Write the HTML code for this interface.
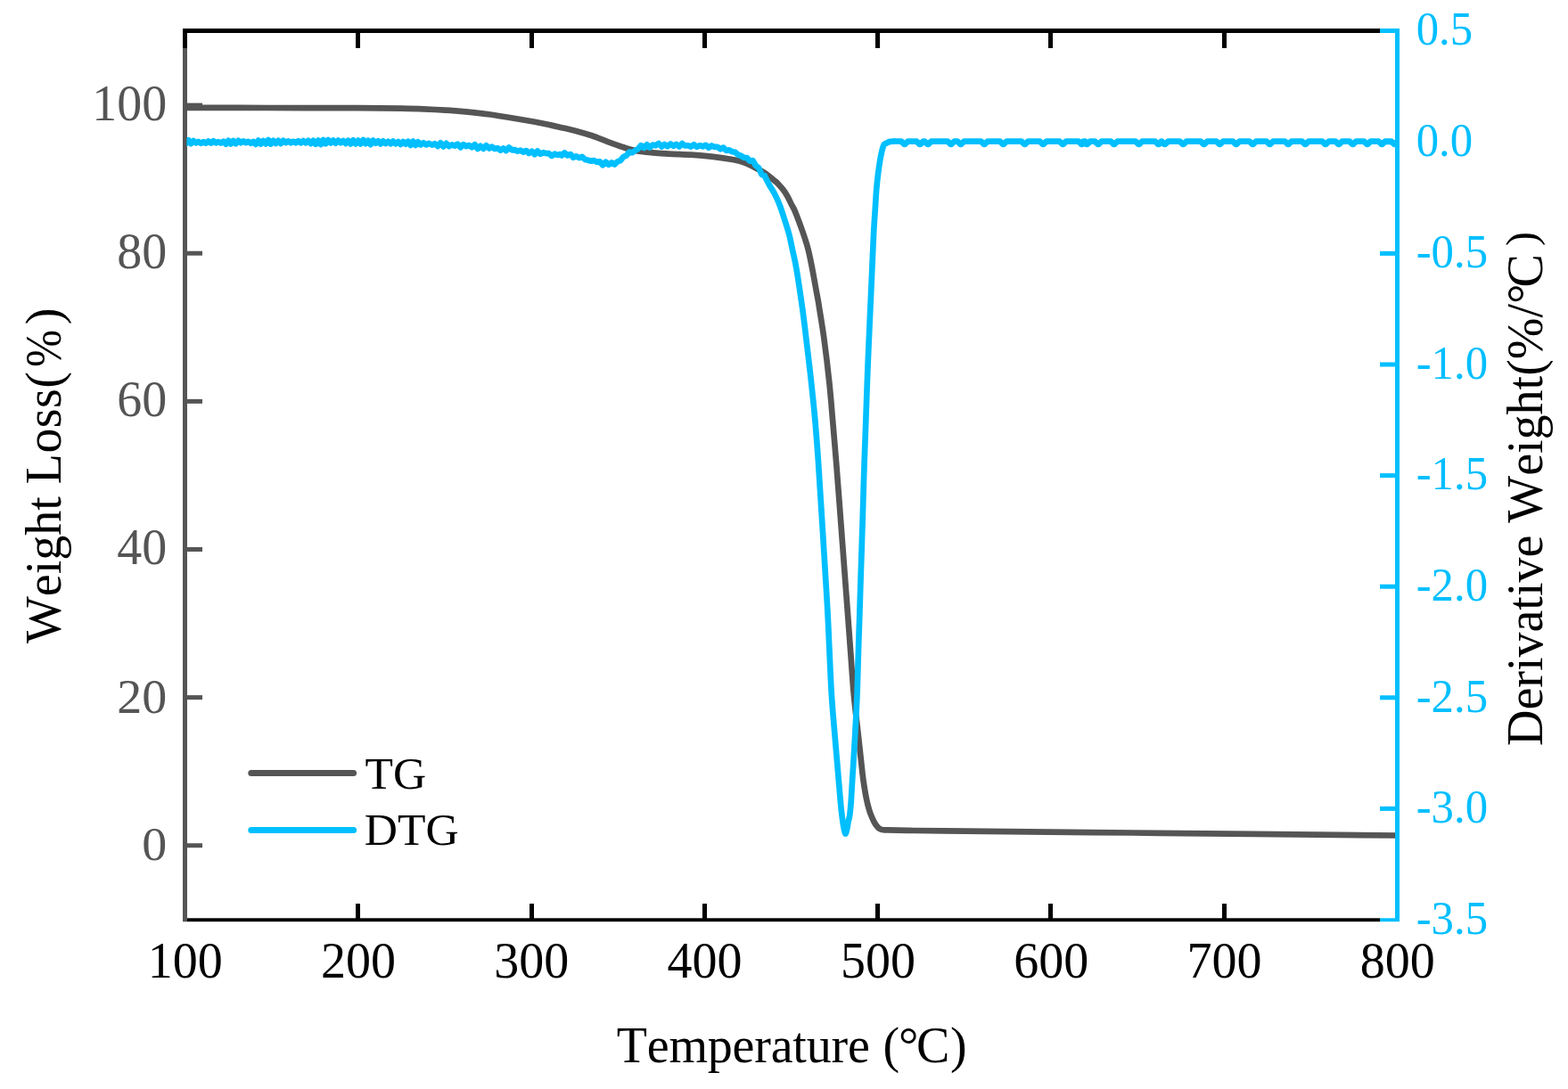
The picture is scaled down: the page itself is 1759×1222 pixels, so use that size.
<!DOCTYPE html>
<html lang="en"><head><meta charset="utf-8"><title>TG / DTG</title>
<style>html,body{margin:0;padding:0;background:#fff}body{width:1759px;height:1222px;overflow:hidden}svg{display:block}text{font-family:'Liberation Serif', 'Times New Roman', Times, serif;font-kerning:none;font-variant-ligatures:none}</style>
</head><body>
<svg width="1759" height="1222" viewBox="0 0 1759 1222">
<rect width="1759" height="1222" fill="#fff"/>
<g shape-rendering="crispEdges">
<rect x="205" y="1030.3" width="1343" height="3.9" fill="#000000" shape-rendering="geometricPrecision"/>
<rect x="399.3" y="1014" width="5" height="18" fill="#000000"/>
<rect x="593.5" y="1014" width="5" height="18" fill="#000000"/>
<rect x="787.8" y="1014" width="5" height="18" fill="#000000"/>
<rect x="982.1" y="1014" width="5" height="18" fill="#000000"/>
<rect x="1176.4" y="1014" width="5" height="18" fill="#000000"/>
<rect x="1370.6" y="1014" width="5" height="18" fill="#000000"/>
<rect x="205" y="32" width="5" height="1002.2" fill="#555555"/>
<rect x="209" y="946.25" width="18" height="5" fill="#555555" shape-rendering="geometricPrecision"/>
<rect x="209" y="780.12" width="18" height="5" fill="#555555" shape-rendering="geometricPrecision"/>
<rect x="209" y="613.99" width="18" height="5" fill="#555555" shape-rendering="geometricPrecision"/>
<rect x="209" y="447.86" width="18" height="5" fill="#555555" shape-rendering="geometricPrecision"/>
<rect x="209" y="281.73" width="18" height="5" fill="#555555" shape-rendering="geometricPrecision"/>
<rect x="209" y="115.60" width="18" height="5" fill="#555555" shape-rendering="geometricPrecision"/>
<rect x="205" y="32" width="1343" height="5" fill="#000000"/>
<rect x="205.0" y="32" width="5" height="22" fill="#000000"/>
<rect x="399.3" y="32" width="5" height="22" fill="#000000"/>
<rect x="593.5" y="32" width="5" height="22" fill="#000000"/>
<rect x="787.8" y="32" width="5" height="22" fill="#000000"/>
<rect x="982.1" y="32" width="5" height="22" fill="#000000"/>
<rect x="1176.4" y="32" width="5" height="22" fill="#000000"/>
<rect x="1370.6" y="32" width="5" height="22" fill="#000000"/>
</g>
<clipPath id="plot"><rect x="209.5" y="37" width="1358" height="993"/></clipPath>
<g fill="none" stroke-linecap="round" stroke-linejoin="round" stroke-width="6.7" clip-path="url(#plot)">
<path stroke="#555555" d="M200.0,120.8C201.3,120.8 191.3,120.8 208.0,120.8C224.7,120.8 268.0,120.9 300.0,121.0C332.0,121.1 375.0,121.1 400.0,121.2C425.0,121.3 437.5,121.4 450.0,121.6C462.5,121.8 466.7,121.9 475.0,122.3C483.3,122.7 491.7,123.2 500.0,123.7C508.3,124.2 516.7,124.8 525.0,125.6C533.3,126.4 541.7,127.3 550.0,128.5C558.3,129.7 566.7,131.1 575.0,132.5C583.3,133.9 593.3,135.6 600.0,136.8C606.7,138.0 610.0,138.7 615.0,139.8C620.0,140.9 624.7,142.0 630.0,143.2C635.3,144.4 641.3,145.7 647.0,147.2C652.7,148.7 658.4,150.4 664.1,152.3C669.8,154.2 675.5,156.7 681.2,158.8C686.9,160.9 693.7,163.4 698.2,164.9C702.7,166.4 705.0,167.2 708.4,168.0C711.8,168.8 714.7,169.4 718.7,170.0C722.7,170.6 727.1,171.0 732.3,171.4C737.5,171.8 742.9,172.2 750.0,172.6C757.1,173.0 766.7,173.2 775.0,173.7C783.3,174.2 792.0,174.9 800.0,175.8C808.0,176.7 817.1,178.2 823.0,179.3C828.9,180.4 831.1,180.9 835.5,182.6C839.9,184.2 845.5,187.4 849.1,189.2C852.7,191.0 853.7,191.3 857.0,193.6C860.3,195.9 866.5,200.8 869.0,202.8C871.5,204.8 870.6,203.9 872.1,205.5C873.6,207.1 876.1,209.8 878.0,212.2C879.9,214.6 881.5,217.1 883.2,220.0C884.9,222.9 886.4,226.3 888.0,229.6C889.6,232.9 889.9,231.8 893.0,240.0C896.1,248.2 902.5,264.1 906.4,279.1C910.3,294.1 914.3,319.0 916.4,330.0C918.5,341.0 917.7,336.8 919.0,345.0C920.3,353.2 922.4,365.2 924.3,379.1C926.2,393.0 928.6,412.6 930.2,428.2C931.9,443.8 932.9,457.5 934.2,472.8C935.5,488.1 937.0,505.1 938.2,520.0C939.4,535.0 940.4,548.3 941.5,562.5C942.6,576.7 943.6,590.8 944.7,605.0C945.8,619.2 946.8,633.5 947.9,647.7C949.0,661.9 950.0,675.8 951.1,690.0C952.2,704.2 953.2,718.8 954.3,733.0C955.3,747.2 956.4,763.4 957.4,775.0C958.4,786.6 959.2,792.6 960.3,802.7C961.4,812.8 962.8,824.5 964.0,835.5C965.2,846.5 966.7,860.6 967.6,868.5C968.5,876.4 968.9,878.5 969.6,883.1C970.3,887.7 971.0,891.8 971.9,896.2C972.8,900.6 974.2,906.0 975.2,909.3C976.2,912.6 976.7,913.6 977.6,915.8C978.5,918.0 979.6,920.5 980.6,922.4C981.6,924.3 982.8,926.0 983.8,927.2C984.8,928.4 985.3,929.1 986.3,929.7C987.2,930.3 988.0,930.7 989.5,931.0C991.0,931.3 990.5,931.2 995.6,931.4C1000.7,931.5 1009.3,931.7 1020.0,931.9C1030.7,932.1 1013.3,931.9 1060.0,932.4C1106.7,932.9 1215.5,933.9 1300.0,934.8C1384.5,935.6 1521.3,937.0 1567.0,937.5C1612.7,938.0 1572.8,937.6 1574.0,937.6"/>
<polyline stroke="#00BFFF" points="203.0,161.8 205.8,158.5 208.6,161.2 211.4,157.3 214.2,161.1 217.0,158.1 219.8,160.4 222.6,159.0 225.4,160.8 228.2,159.2 231.0,160.7 233.8,158.5 236.6,160.6 239.4,158.3 242.2,160.3 245.0,159.1 247.8,160.6 250.6,158.7 253.4,161.7 256.2,157.7 259.0,161.4 261.8,158.0 264.6,161.2 267.4,157.9 270.2,160.2 273.0,158.3 275.8,160.1 278.6,158.8 281.4,160.8 284.2,158.9 287.0,161.9 289.8,157.5 292.6,161.6 295.4,158.0 298.2,161.5 301.0,157.1 303.8,161.7 306.6,157.7 309.4,161.0 312.2,157.9 315.0,161.1 317.8,157.7 320.6,160.1 323.4,158.3 326.2,160.3 329.0,158.8 331.8,160.3 334.6,158.3 337.4,160.4 340.2,158.0 343.0,160.3 345.8,157.9 348.6,161.2 351.4,157.8 354.2,161.8 357.0,157.5 359.8,162.1 362.6,157.0 365.4,161.3 368.2,157.0 371.0,160.4 373.8,157.5 376.6,160.8 379.4,157.6 382.2,160.2 385.0,158.0 387.8,161.1 390.6,157.7 393.4,161.4 396.2,157.3 399.0,161.4 401.8,157.6 404.6,161.4 407.4,156.9 410.2,161.2 413.0,157.7 415.8,162.2 418.6,157.6 421.4,160.8 424.2,158.3 427.0,161.4 429.8,158.4 432.6,161.0 435.4,158.8 438.2,161.4 441.0,158.6 443.8,161.3 446.6,159.0 449.4,162.0 452.2,159.0 455.0,161.6 457.8,158.7 460.6,162.9 463.4,158.5 466.2,162.9 469.0,159.4 471.8,162.4 475.0,160.2 478.2,162.4 481.4,160.9 484.6,162.6 487.8,161.2 491.0,164.1 494.2,160.3 497.4,164.4 500.6,160.9 503.8,164.2 507.0,162.3 510.2,163.7 513.4,161.7 516.6,165.4 519.8,162.1 523.0,164.2 526.2,163.0 529.4,165.3 532.6,162.2 535.8,167.0 539.0,163.9 542.2,166.9 545.4,163.2 548.6,166.5 551.8,164.6 555.0,167.0 558.2,166.1 561.4,168.7 564.6,166.5 567.8,169.1 571.0,165.5 574.2,168.3 577.4,168.1 580.6,169.6 583.8,168.7 587.0,170.6 590.2,169.1 593.4,172.0 596.6,169.8 599.8,173.2 603.0,169.5 606.2,172.8 609.4,171.2 612.6,172.1 615.8,172.2 619.0,174.9 622.2,172.7 625.4,173.9 628.6,173.1 630.0,174.4 633.3,171.4 636.6,174.4 639.9,173.1 643.2,176.8 646.5,175.3 649.8,177.2 653.1,176.0 656.4,178.9 659.7,179.7 663.0,180.7 666.3,180.1 669.6,181.9 672.9,181.4 676.2,185.3 679.5,181.7 682.8,184.8 686.1,182.3 689.4,184.5 692.7,181.4 696.0,180.2 699.3,176.0 702.6,174.6 705.9,170.6 709.2,171.4 712.5,168.9 715.8,167.1 719.1,163.2 722.4,165.9 725.7,162.3 729.0,165.6 732.3,162.6 735.6,163.3 738.9,161.0 742.2,164.6 745.5,162.0 748.8,164.2 752.1,161.5 755.4,163.9 758.7,161.8 762.0,164.5 765.3,161.1 768.6,163.5 771.9,163.3 775.2,164.6 778.5,162.3 781.8,164.9 785.1,163.1 788.4,164.5 791.7,162.8 795.0,165.9 798.3,163.5 801.6,164.9 804.9,164.8 808.2,167.3 811.5,165.6 814.8,169.0 818.1,168.4 821.4,170.3 824.7,170.8 828.0,173.8 831.3,174.8 834.6,176.9 837.9,177.1 841.2,180.7 844.5,180.1 847.8,185.8 851.1,188.3 854.4,195.7 857.7,197.3"/>
<path stroke="#00BFFF" d="M857.7,197.3C858.6,199.0 861.1,204.1 863.0,207.5C864.9,210.9 867.0,213.6 869.0,217.5C871.0,221.4 873.2,226.2 875.0,231.0C876.8,235.8 878.2,240.5 880.0,246.0C881.8,251.5 884.1,258.7 885.5,264.0C886.9,269.3 887.1,271.6 888.5,278.0C889.9,284.4 891.7,291.3 893.6,302.5C895.5,313.7 898.0,330.8 900.0,345.0C902.0,359.2 903.6,373.5 905.3,387.7C907.0,401.9 908.7,415.8 910.2,430.0C911.7,444.2 913.2,457.8 914.5,472.8C915.8,487.8 917.1,505.1 918.1,520.0C919.1,535.0 919.9,548.3 920.8,562.5C921.7,576.7 922.6,590.8 923.5,605.0C924.4,619.2 925.2,633.5 926.1,647.7C927.0,661.9 927.9,675.8 928.6,690.0C929.4,704.2 929.9,718.8 930.6,733.0C931.3,747.2 931.9,763.4 932.6,775.0C933.3,786.6 933.8,792.6 934.6,802.7C935.4,812.8 936.5,824.6 937.4,835.5C938.3,846.4 939.3,857.1 940.2,868.0C941.1,878.9 942.3,893.0 943.0,901.0C943.7,909.0 944.2,912.5 944.6,915.8C945.0,919.1 945.0,919.1 945.3,921.0C945.6,922.9 945.9,925.2 946.2,927.0C946.5,928.8 946.9,930.7 947.2,932.0C947.5,933.3 947.8,934.2 948.0,934.8C948.2,935.4 948.3,935.7 948.5,935.7C948.7,935.7 948.8,935.4 949.0,934.8C949.2,934.2 949.5,933.3 949.8,932.0C950.1,930.7 950.5,928.8 950.8,927.0C951.1,925.2 951.4,922.9 951.8,921.0C952.2,919.1 952.6,919.1 953.1,915.8C953.6,912.5 954.0,909.0 954.6,901.0C955.2,893.0 955.9,878.9 956.6,868.0C957.3,857.1 958.0,846.4 958.6,835.5C959.2,824.6 959.9,812.8 960.4,802.7C960.9,792.6 961.3,786.6 961.7,775.0C962.1,763.4 962.5,747.2 962.9,733.0C963.3,718.8 963.8,704.2 964.3,690.0C964.8,675.8 965.1,661.9 965.6,647.7C966.1,633.5 966.5,619.2 967.0,605.0C967.5,590.8 967.9,576.7 968.3,562.5C968.7,548.3 969.1,535.0 969.6,520.0C970.1,505.1 970.8,487.8 971.3,472.8C971.8,457.8 972.3,444.2 972.8,430.0C973.3,415.8 973.9,401.9 974.5,387.7C975.1,373.5 975.8,359.2 976.4,345.0C977.0,330.8 977.7,316.7 978.3,302.5C978.9,288.3 979.6,272.1 980.2,260.0C980.8,247.9 981.6,238.0 982.1,230.0C982.6,222.0 982.8,217.6 983.3,211.8C983.8,206.1 984.3,201.0 985.0,195.5C985.7,190.0 986.7,183.1 987.4,179.0C988.1,174.9 988.5,173.3 989.0,170.9C989.5,168.5 990.2,166.1 990.7,164.6C991.2,163.1 991.3,162.7 991.9,162.0C992.5,161.3 993.3,161.1 994.4,160.6C995.5,160.1 997.1,159.2 998.5,158.9C999.9,158.6 1002.2,158.6 1003.0,158.5"/>
<polyline stroke="#00BFFF" points="1003.0,158.5 1011.1,158.6 1014.4,162.0 1015.2,162.0 1018.5,158.6 1028.3,158.6 1031.6,162.0 1032.4,162.0 1035.7,158.6 1037.3,158.6 1040.6,162.0 1041.4,162.0 1044.7,158.6 1063.1,158.6 1066.4,162.0 1067.2,162.0 1070.5,158.6 1074.1,158.6 1077.4,162.0 1078.2,162.0 1081.5,158.6 1100.5,158.6 1103.8,162.0 1104.6,162.0 1107.9,158.6 1121.8,158.6 1125.1,162.0 1125.9,162.0 1129.2,158.6 1145.9,158.6 1149.2,162.0 1150.0,162.0 1153.3,158.6 1166.5,158.6 1169.8,162.0 1170.6,162.0 1173.9,158.6 1188.6,158.6 1191.9,162.0 1192.7,162.0 1196.0,158.6 1209.9,158.6 1213.2,162.0 1214.0,162.0 1217.3,158.6 1215.6,158.6 1218.9,162.0 1219.7,162.0 1223.0,158.6 1228.3,158.6 1231.6,162.0 1232.4,162.0 1235.7,158.6 1246.1,158.6 1249.4,162.0 1250.2,162.0 1253.5,158.6 1273.9,158.6 1277.2,162.0 1278.0,162.0 1281.3,158.6 1295.9,158.6 1299.2,162.0 1300.0,162.0 1303.3,158.6 1303.0,158.6 1306.3,162.0 1307.1,162.0 1310.4,158.6 1323.6,158.6 1326.9,162.0 1327.7,162.0 1331.0,158.6 1346.9,158.6 1350.2,162.0 1351.0,162.0 1354.3,158.6 1364.6,158.6 1367.9,162.0 1368.7,162.0 1372.0,158.6 1383.1,158.6 1386.4,162.0 1387.2,162.0 1390.5,158.6 1401.6,158.6 1404.9,162.0 1405.7,162.0 1409.0,158.6 1420.8,158.6 1424.1,162.0 1424.9,162.0 1428.2,158.6 1441.4,158.6 1444.7,162.0 1445.5,162.0 1448.8,158.6 1460.6,158.6 1463.9,162.0 1464.7,162.0 1468.0,158.6 1483.3,158.6 1486.6,162.0 1487.4,162.0 1490.7,158.6 1498.2,158.6 1501.5,162.0 1502.3,162.0 1505.6,158.6 1513.9,158.6 1517.2,162.0 1518.0,162.0 1521.3,158.6 1530.2,158.6 1533.5,162.0 1534.3,162.0 1537.6,158.6 1546.5,158.6 1549.8,162.0 1550.6,162.0 1553.9,158.6 1560.8,158.6 1564.1,162.0 1564.9,162.0 1568.2,158.6 1572.0,158.8"/>
</g>
<g shape-rendering="crispEdges">
<rect x="1565" y="32" width="5" height="1002.2" fill="#00BFFF"/>
<rect x="1548" y="32" width="22" height="5" fill="#00BFFF"/>
<rect x="1548" y="157.30" width="18" height="5" fill="#00BFFF" shape-rendering="geometricPrecision"/>
<rect x="1548" y="281.90" width="18" height="5" fill="#00BFFF" shape-rendering="geometricPrecision"/>
<rect x="1548" y="406.50" width="18" height="5" fill="#00BFFF" shape-rendering="geometricPrecision"/>
<rect x="1548" y="531.10" width="18" height="5" fill="#00BFFF" shape-rendering="geometricPrecision"/>
<rect x="1548" y="655.70" width="18" height="5" fill="#00BFFF" shape-rendering="geometricPrecision"/>
<rect x="1548" y="780.30" width="18" height="5" fill="#00BFFF" shape-rendering="geometricPrecision"/>
<rect x="1548" y="904.90" width="18" height="5" fill="#00BFFF" shape-rendering="geometricPrecision"/>
<rect x="1548" y="1030.3" width="22" height="3.9" fill="#00BFFF" shape-rendering="geometricPrecision"/>
</g>
<g font-size="56" fill="#000000" text-anchor="middle">
<text x="207.8" y="1096.8">100</text>
<text x="402.1" y="1096.8">200</text>
<text x="596.3" y="1096.8">300</text>
<text x="790.6" y="1096.8">400</text>
<text x="984.9" y="1096.8">500</text>
<text x="1179.2" y="1096.8">600</text>
<text x="1373.4" y="1096.8">700</text>
<text x="1567.7" y="1096.8">800</text>
</g>
<g font-size="56" fill="#555555" text-anchor="end">
<text transform="translate(187.2,965.0) scale(1,0.960)">0</text>
<text transform="translate(187.2,800.0) scale(1,0.965)">20</text>
<text transform="translate(187.2,633.4) scale(1,1.000)">40</text>
<text transform="translate(187.2,467.0) scale(1,1.000)">60</text>
<text transform="translate(187.2,300.7) scale(1,1.000)">80</text>
<text transform="translate(187.2,134.5) scale(1,1.000)">100</text>
</g>
<g font-size="53.2" fill="#00BFFF" text-anchor="start">
<text transform="translate(1588.7,50.4) scale(0.955,1)">0.5</text>
<text transform="translate(1588.7,175.1) scale(0.955,1)">0.0</text>
<text transform="translate(1588.7,299.8) scale(0.955,1)">-0.5</text>
<text transform="translate(1588.7,424.5) scale(0.955,1)">-1.0</text>
<text transform="translate(1588.7,549.2) scale(0.955,1)">-1.5</text>
<text transform="translate(1588.7,673.9) scale(0.955,1)">-2.0</text>
<text transform="translate(1588.7,798.7) scale(0.955,1)">-2.5</text>
<text transform="translate(1588.7,923.4) scale(0.955,1)">-3.0</text>
<text transform="translate(1588.7,1048.1) scale(0.955,1)">-3.5</text>
</g>
<text x="691.8" y="1191.5" font-size="56" fill="#000"><tspan letter-spacing="-0.21">Temperature</tspan><tspan dx="1"> (</tspan><tspan dx="-1.1">°</tspan><tspan dx="-2.4">C</tspan><tspan dx="0.5">)</tspan></text>
<g transform="translate(67.6,0) rotate(-90)" font-size="56" fill="#000">
<text x="-722.0" y="0">Weight <tspan letter-spacing="0.4">Loss(</tspan></text>
<text transform="translate(-412.0,0) scale(0.9,1)">%</text>
<text x="-364.2" y="0">)</text>
</g>
<g transform="translate(1730.2,0) rotate(-90)" font-size="56" fill="#000">
<text x="-837.0" y="0">Derivative Weight(%/°</text>
<text x="-322.5" y="0">C</text>
<text x="-276.0" y="-7" font-size="48">)</text>
</g>
<g fill="none" stroke-linecap="round" stroke-width="7.2">
<line x1="281.9" y1="867.5" x2="396.5" y2="867.5" stroke="#555555"/>
<line x1="281.9" y1="931.5" x2="396.5" y2="931.5" stroke="#00BFFF"/>
</g>
<g font-size="51.5" fill="#000">
<text x="409.5" y="885.4">TG</text>
<text x="408.8" y="947.8">DTG</text>
</g>
</svg>
</body></html>
